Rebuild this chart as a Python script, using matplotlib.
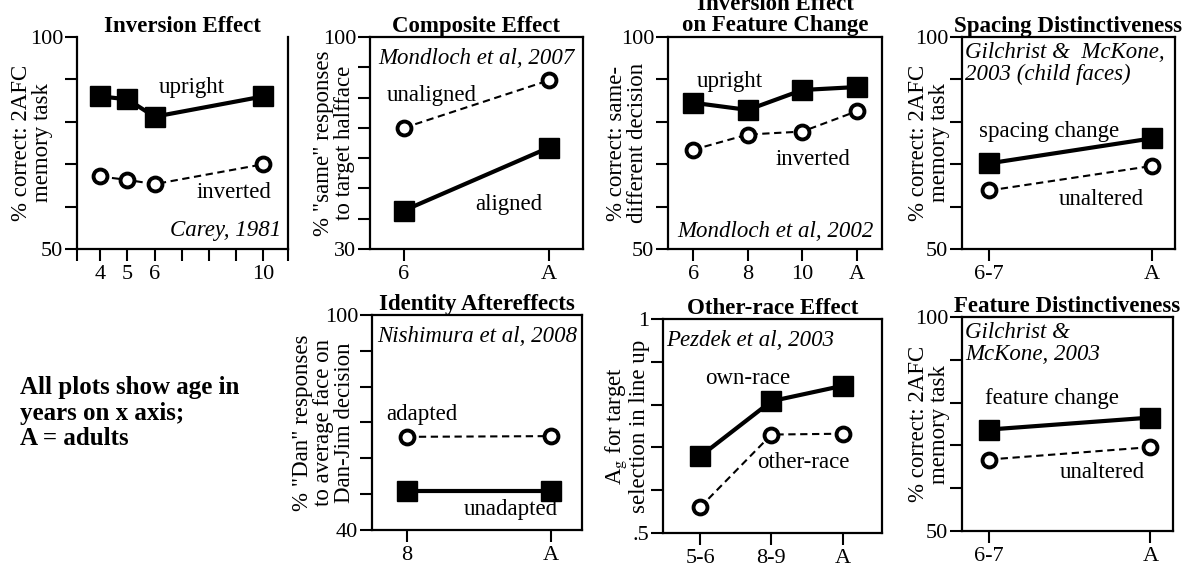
import numpy as np
import matplotlib.pyplot as plt

plt.rcParams['font.family'] = ['Liberation Serif', 'DejaVu Serif']
plt.rcParams['mathtext.fontset'] = 'stix'
plt.rcParams['font.size'] = 16

# Data

# Inversion Effect (Carey, 1981)
ages_inv = [4, 5, 6, 10]
inv_upright = [86.0, 85.3, 81.2, 86.0]
inv_inverted = [67.1, 66.3, 65.3, 70.0]

# Composite Effect (Mondloch et al, 2007)
cats_comp = ['6', 'A']
comp_unaligned = [70.0, 85.7]
comp_aligned = [42.7, 63.5]

# Inversion Effect on Feature Change (Mondloch et al, 2002)
cats_feat = ['6', '8', '10', 'A']
feat_upright = [84.5, 82.8, 87.5, 88.2]
feat_inverted = [73.4, 77.0, 77.7, 82.5]

# Spacing Distinctiveness (Gilchrist & McKone, 2003)
cats_spac = ['6-7', 'A']
spac_change = [70.2, 76.1]
spac_unaltered = [63.8, 69.6]

# Identity Aftereffects (Nishimura et al, 2008)
cats_id = ['8', 'A']
id_adapted = [66.0, 66.2]
id_unadapted = [51.0, 51.0]

# Other-race Effect (Pezdek et al, 2003)
cats_race = ['5-6', '8-9', 'A']
race_own = [0.679, 0.808, 0.844]
race_other = [0.560, 0.730, 0.732]

# Feature Distinctiveness (Gilchrist & McKone, 2003)
cats_fdist = ['6-7', 'A']
fdist_change = [73.7, 76.5]
fdist_unaltered = [66.7, 69.6]

W, H = 1188, 567
fig = plt.figure(figsize=(W / 100, H / 100), dpi=100)

FS = 16.5  # in-plot labels


def make_axes(l, r, t, b):
    ax = fig.add_axes([l / W, 1 - b / H, (r - l) / W, (b - t) / H])
    for s in ax.spines.values():
        s.set_linewidth(1.6)
    ax.tick_params(direction='out', length=8.5, width=1.5, pad=3, labelsize=16)
    return ax


def set_yaxis(ax, lo, hi, step, labels, ylabel, lx):
    ticks = np.arange(lo, hi + step / 2, step)
    ax.set_ylim(lo, hi)
    ax.set_yticks(ticks)
    ax.set_yticklabels([labels[0]] + [''] * (len(ticks) - 2) + [labels[1]])
    ax.tick_params(axis='y', pad=1.5)
    ax.set_ylabel(ylabel, fontsize=16.5, linespacing=1.0)
    ax.yaxis.set_label_coords(lx, 0.5)


def solid(ax, x, y):
    ax.plot(x, y, '-', color='black', lw=3, marker='s', ms=14,
            mfc='black', mec='black', clip_on=False, zorder=3)


def dashed(ax, x, y):
    ax.plot(x, y, '--', color='black', lw=1.5, dashes=(3.5, 2.2), marker='o',
            ms=10, mfc='white', mec='black', mew=2.8, clip_on=False, zorder=3)


def title(ax, txt, pad=3):
    ax.set_title(txt, fontsize=16.5, fontweight='bold', pad=pad, linespacing=1.0)


# Panel 1: Inversion Effect
ax = make_axes(77, 288, 37, 249)
ax.spines['top'].set_visible(False)
solid(ax, ages_inv, inv_upright)
dashed(ax, ages_inv, inv_inverted)
ax.set_xlim(3.15, 10.9)
ax.set_xticks([3.15, 4, 5, 6, 7, 8, 9, 10, 10.9])
ax.set_xticklabels(['', '4', '5', '6', '', '', '', '10', ''])
set_yaxis(ax, 50, 100, 10, ['50', '100'], '% correct: 2AFC\nmemory task', -0.115)
ax.text(7.35, 88.1, 'upright', ha='center', va='center', fontsize=FS)
ax.text(8.9, 63.3, 'inverted', ha='center', va='center', fontsize=FS)
ax.text(0.97, 0.04, 'Carey, 1981', ha='right', va='bottom', style='italic',
        fontsize=FS, transform=ax.transAxes)
title(ax, 'Inversion Effect')

# Panel 2: Composite Effect
ax = make_axes(370, 583, 37, 249)
x = np.arange(len(cats_comp))
dashed(ax, x, comp_unaligned)
solid(ax, x, comp_aligned)
ax.set_xlim(-0.234, 1.234)
ax.set_xticks(x)
ax.set_xticklabels(cats_comp)
set_yaxis(ax, 30, 100, 10, ['30', '100'], '% "same" responses\nto target halfface', -0.07)
ax.text(0.19, 80.8, 'unaligned', ha='center', va='center', fontsize=FS)
ax.text(0.72, 44.6, 'aligned', ha='center', va='center', fontsize=FS)
ax.text(0.5, 0.9, 'Mondloch et al, 2007', ha='center', va='center', style='italic',
        fontsize=FS, transform=ax.transAxes)
title(ax, 'Composite Effect')

# Panel 3: Inversion Effect on Feature Change
ax = make_axes(668, 882, 37, 249)
x = np.arange(len(cats_feat))
solid(ax, x, feat_upright)
dashed(ax, x, feat_inverted)
ax.set_xlim(-0.46, 3.46)
ax.set_xticks(x)
ax.set_xticklabels(cats_feat)
set_yaxis(ax, 50, 100, 10, ['50', '100'], '% correct: same-\ndifferent decision', -0.093)
ax.text(0.68, 89.4, 'upright', ha='center', va='center', fontsize=FS)
ax.text(2.19, 71.0, 'inverted', ha='center', va='center', fontsize=FS)
ax.text(0.5, 0.035, 'Mondloch et al, 2002', ha='center', va='bottom', style='italic',
        fontsize=FS, transform=ax.transAxes)
title(ax, 'Inversion Effect\non Feature Change', pad=4.5)

# Panel 4: Spacing Distinctiveness
ax = make_axes(962, 1175, 37, 249)
x = np.arange(len(cats_spac))
solid(ax, x, spac_change)
dashed(ax, x, spac_unaltered)
ax.set_xlim(-0.166, 1.14)
ax.set_xticks(x)
ax.set_xticklabels(cats_spac)
set_yaxis(ax, 50, 100, 10, ['50', '100'], '% correct: 2AFC\nmemory task', -0.056)
ax.text(0.37, 77.7, 'spacing change', ha='center', va='center', fontsize=FS)
ax.text(0.69, 61.6, 'unaltered', ha='center', va='center', fontsize=FS)
ax.text(0.015, 0.975, 'Gilchrist &  McKone,\n2003 (child faces)', ha='left', va='top',
        style='italic', fontsize=FS, linespacing=1.05, transform=ax.transAxes)
title(ax, 'Spacing Distinctiveness')

# Panel 5: Identity Aftereffects
ax = make_axes(372, 582, 315, 530)
x = np.arange(len(cats_id))
dashed(ax, x, id_adapted)
solid(ax, x, id_unadapted)
ax.set_xlim(-0.243, 1.215)
ax.set_xticks(x)
ax.set_xticklabels(cats_id)
set_yaxis(ax, 40, 100, 10, ['40', '100'],
          '% "Dan" responses\nto average face on\nDan-Jim decision', -0.081)
ax.text(0.1, 72.1, 'adapted', ha='center', va='center', fontsize=FS)
ax.text(0.72, 45.6, 'unadapted', ha='center', va='center', fontsize=FS)
ax.text(0.5, 0.9, 'Nishimura et al, 2008', ha='center', va='center', style='italic',
        fontsize=FS, transform=ax.transAxes)
title(ax, 'Identity Aftereffects')

# Panel 6: Other-race Effect
ax = make_axes(663, 882, 319, 533)
x = np.arange(len(cats_race))
solid(ax, x, race_own)
dashed(ax, x, race_other)
ax.set_xlim(-0.52, 2.55)
ax.set_xticks(x)
ax.set_xticklabels(cats_race)
set_yaxis(ax, 0.5, 1.0, 0.1, ['.5', '1'],
          'A$_\\mathrm{g}$ for target\nselection in line up', -0.059)
ax.text(0.67, 0.862, 'own-race', ha='center', va='center', fontsize=FS)
ax.text(1.44, 0.664, 'other-race', ha='center', va='center', fontsize=FS)
ax.text(0.015, 0.9, 'Pezdek et al, 2003', ha='left', va='center', style='italic',
        fontsize=FS, transform=ax.transAxes)
title(ax, 'Other-race Effect')

# Panel 7: Feature Distinctiveness
ax = make_axes(962, 1173, 317, 531)
x = np.arange(len(cats_fdist))
solid(ax, x, fdist_change)
dashed(ax, x, fdist_unaltered)
ax.set_xlim(-0.166, 1.14)
ax.set_xticks(x)
ax.set_xticklabels(cats_fdist)
set_yaxis(ax, 50, 100, 10, ['50', '100'], '% correct: 2AFC\nmemory task', -0.056)
ax.text(0.39, 80.9, 'feature change', ha='center', va='center', fontsize=FS)
ax.text(0.70, 63.6, 'unaltered', ha='center', va='center', fontsize=FS)
ax.text(0.015, 0.975, 'Gilchrist &\nMcKone, 2003', ha='left', va='top',
        style='italic', fontsize=FS, linespacing=1.05, transform=ax.transAxes)
title(ax, 'Feature Distinctiveness')

fig.text(20 / W, 1 - 376 / H, 'All plots show age in\nyears on x axis;\nA = adults',
         ha='left', va='top', fontsize=18, fontweight='bold', linespacing=1.15)

fig.savefig('out.png', dpi=100)
